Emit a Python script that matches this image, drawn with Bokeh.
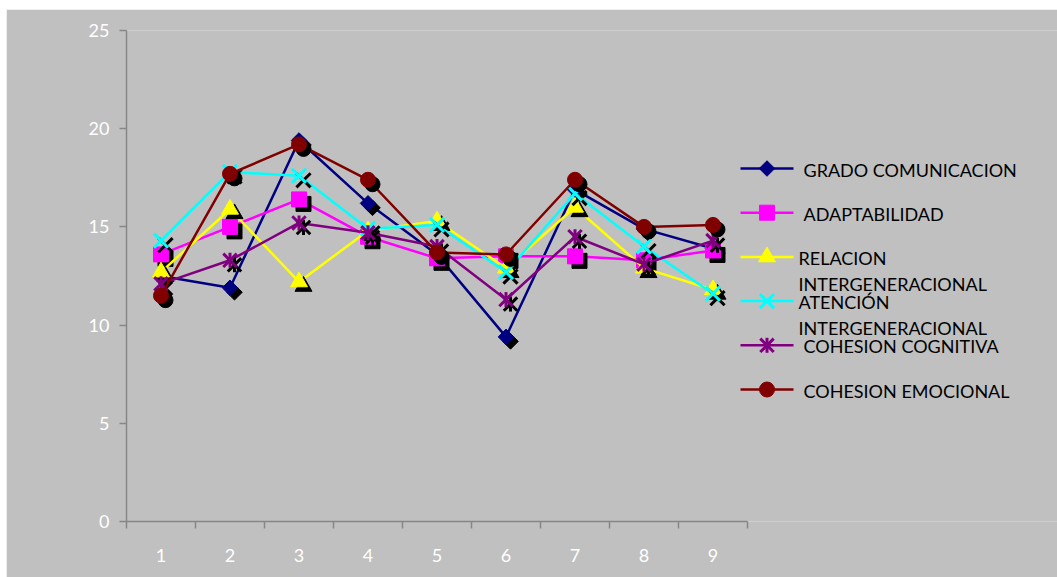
import math

from bokeh.plotting import figure
from bokeh.models import ColumnDataSource, FixedTicker, Range1d
from bokeh.transform import dodge
from bokeh.core.properties import value
from bokeh.embed import file_html
from bokeh.resources import INLINE

# ---------------------------------------------------------------- data
categories = [1, 2, 3, 4, 5, 6, 7, 8, 9]
x_tick_labels = ["1", "2", "3", "4", "5", "6", "7", "8", "9"]
y_ticks = [0, 5, 10, 15, 20, 25]

grado_comunicacion = [12.5, 11.9, 19.4, 16.2, 13.6, 9.4, 16.9, 14.9, 13.9]
adaptabilidad = [13.6, 15.0, 16.4, 14.5, 13.4, 13.5, 13.5, 13.3, 13.8]
relacion = [12.7, 15.9, 12.2, 14.8, 15.3, 12.9, 16.0, 12.9, 11.8]
atencion = [14.3, 17.8, 17.6, 14.9, 15.1, 12.7, 16.7, 14.0, 11.6]
cohesion_cognitiva = [12.1, 13.3, 15.2, 14.7, 14.0, 11.3, 14.5, 13.1, 14.3]
cohesion_emocional = [11.5, 17.7, 19.2, 17.4, 13.7, 13.6, 17.4, 15.0, 15.1]

# legend text, one list of lines per series
legend_lines = [
    ["GRADO COMUNICACION"],
    ["ADAPTABILIDAD"],
    ["RELACION"],
    ["INTERGENERACIONAL", "ATENCIÓN"],
    ["INTERGENERACIONAL", "COHESION COGNITIVA"],
    ["COHESION EMOCIONAL"],
]

# ---------------------------------------------------------------- styling
BG = "#C0C0C0"
AXIS = "#868686"
FONT = "Lato"
FONT_SIZE = "18px"

series = [
    ("grado", grado_comunicacion, "#000080", "diamond"),
    ("adapt", adaptabilidad, "#FF00FF", "square"),
    ("relac", relacion, "#FFFF00", "triangle"),
    ("atenc", atencion, "#00FFFF", "x"),
    ("cogni", cohesion_cognitiva, "#800080", "asterisk"),
    ("emoci", cohesion_emocional, "#800000", "circle"),
]

# figure geometry (pixels)
FIG_W, FIG_H = 1051, 568
BORDER_L, BORDER_T, BORDER_B = 120, 21, 56
FRAME_W = FIG_W - BORDER_L
FRAME_H = FIG_H - BORDER_T - BORDER_B
PLOT_W = 621                       # width taken by the nine categories
PX_PER_X = PLOT_W / len(categories)
PX_PER_Y = FRAME_H / 25.0
X0 = 0.5
X_END = X0 + FRAME_W / PX_PER_X    # the right part of the frame holds the legend

p = figure(
    width=FIG_W, height=FIG_H,
    x_range=Range1d(X0, X_END), y_range=Range1d(0, 25),
    output_backend="svg", toolbar_location=None,
    min_border_left=BORDER_L, min_border_right=0,
    min_border_top=BORDER_T, min_border_bottom=BORDER_B,
    background_fill_color=BG, border_fill_color=BG,
    outline_line_color=None,
)
p.margin = (9, 0, 0, 6)
p.grid.visible = False

# x axis: category boundaries carry the tick marks, labels sit in between
xa = p.xaxis[0]
xa.bounds = (0.5, 9.5)
xa.ticker = FixedTicker(ticks=categories,
                        minor_ticks=[c - 0.5 for c in categories] + [categories[-1] + 0.5])
xa.major_label_overrides = {c: t for c, t in zip(categories, x_tick_labels)}
xa.major_tick_line_color = None
xa.major_tick_out = 0
xa.major_tick_in = 0
xa.minor_tick_line_color = AXIS
xa.minor_tick_line_width = 1.5
xa.minor_tick_out = 7
xa.minor_tick_in = 0
xa.axis_line_color = AXIS
xa.axis_line_width = 1.5
xa.major_label_text_color = "white"
xa.major_label_text_font = FONT
xa.major_label_text_font_size = FONT_SIZE
xa.major_label_standoff = 20

ya = p.yaxis[0]
ya.ticker = FixedTicker(ticks=y_ticks)
ya.major_tick_line_color = AXIS
ya.major_tick_line_width = 1.5
ya.major_tick_out = 7
ya.major_tick_in = 0
ya.minor_tick_line_color = None
ya.axis_line_color = AXIS
ya.axis_line_width = 1.5
ya.major_label_text_color = "white"
ya.major_label_text_font = FONT
ya.major_label_text_font_size = FONT_SIZE
ya.major_label_standoff = 10

src = ColumnDataSource(dict(x=categories, **{name: vals for name, vals, _, _ in series}))

SHADOW_DX = 4.5 / PX_PER_X
SHADOW_DY = -4.5 / PX_PER_Y


def draw_marker(kind, color, x, y, source=None):
    """Draw one marker style; the shadow variant passes color='black'."""
    kw = dict(source=source) if source is not None else {}
    if kind == "diamond":
        p.scatter(x=x, y=y, marker="square", angle=math.pi / 4, size=11,
                  fill_color=color, line_color=color, **kw)
    elif kind == "square":
        p.scatter(x=x, y=y, marker="square", size=15,
                  fill_color=color, line_color=color, **kw)
    elif kind == "triangle":
        p.scatter(x=x, y=y, marker="triangle", size=17,
                  fill_color=color, line_color=color, **kw)
    elif kind == "circle":
        p.scatter(x=x, y=y, marker="circle", size=15,
                  fill_color=color, line_color=color, **kw)
    elif kind == "x":
        p.scatter(x=x, y=y, marker="x", size=20,
                  line_color=color, line_width=3, **kw)
    elif kind == "asterisk":
        p.scatter(x=x, y=y, marker="x", size=19,
                  line_color=color, line_width=3, **kw)
        p.scatter(x=x, y=y, marker="dash", angle=math.pi / 2, size=15,
                  line_color=color, line_width=3, **kw)


for name, vals, color, kind in series:
    p.line("x", name, source=src, line_color=color, line_width=2.5)
    draw_marker(kind, "black", dodge("x", SHADOW_DX), dodge(name, SHADOW_DY), source=src)
    draw_marker(kind, color, "x", name, source=src)


# ---------------------------------------------------------------- legend
def px_to_x(px):
    return X0 + (px - (6 + BORDER_L)) / PX_PER_X


def py_to_y(py):
    return (9 + BORDER_T + FRAME_H - py) / PX_PER_Y


LEG_TOP = 168
LEG_PITCH = 44.2
LEG_LINE_X0, LEG_LINE_X1 = 740, 793
LEG_TEXT_X = 798
LEG_LINE_GAP = 18
text_indent = [[5], [5], [0], [0, 0], [0, 5], [5]]

tx, ty, tt = [], [], []
for i, ((name, vals, color, kind), lines) in enumerate(zip(series, legend_lines)):
    ly = LEG_TOP + i * LEG_PITCH
    p.line(x=[px_to_x(LEG_LINE_X0), px_to_x(LEG_LINE_X1)], y=[py_to_y(ly), py_to_y(ly)],
           line_color=color, line_width=2.5)
    draw_marker(kind, color, [px_to_x((LEG_LINE_X0 + LEG_LINE_X1) / 2)], [py_to_y(ly)])
    n = len(lines)
    for j, line in enumerate(lines):
        tx.append(px_to_x(LEG_TEXT_X + text_indent[i][j]))
        ty.append(py_to_y(ly + 1 - (n - 1 - j) * LEG_LINE_GAP))
        tt.append(line)

p.text(x=tx, y=ty, text=tt, text_font=value(FONT), text_font_size=FONT_SIZE,
       text_color="black", text_baseline="middle", text_align="left")

open("out.html", "w").write(file_html(p, INLINE))
